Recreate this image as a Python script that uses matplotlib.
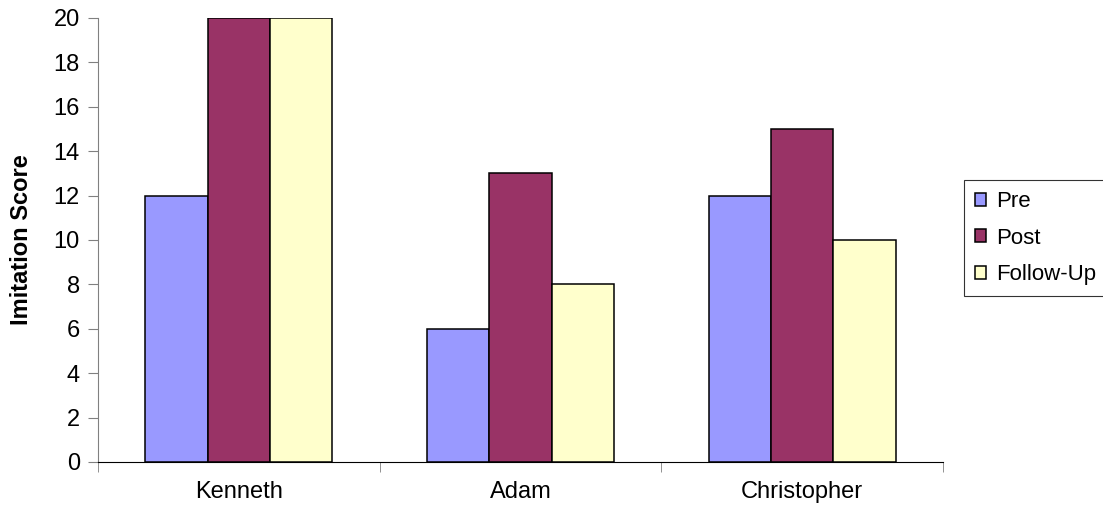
import matplotlib.pyplot as plt
import numpy as np

plt.rcParams['font.family'] = ['Liberation Sans', 'DejaVu Sans']

# Imitation scores per child across the three phases
children = ['Kenneth', 'Adam', 'Christopher']
pre = [12, 6, 12]
post = [20, 13, 15]
follow_up = [20, 8, 10]

series = [('Pre', pre, '#9999FF'),
          ('Post', post, '#993366'),
          ('Follow-Up', follow_up, '#FFFFCC')]

fig = plt.figure(figsize=(11.03, 5.14), dpi=100)
ax = fig.add_axes([98 / 1103, 52 / 514, 845 / 1103, 444 / 514])

x = np.arange(len(children))
w = 0.2215
for i, (name, vals, col) in enumerate(series):
    ax.bar(x + (i - 1) * w, vals, w, color=col, edgecolor='black',
           linewidth=1.1, label=name, zorder=3)

ax.set_xlim(-0.5, len(children) - 0.5)
ax.set_ylim(0, 20)
ax.set_yticks(range(0, 21, 2))
ax.set_xticks(x)
ax.set_xticklabels(children)
ax.set_xticks(np.arange(-0.5, len(children), 1), minor=True)

ax.spines['top'].set_visible(False)
ax.spines['right'].set_visible(False)
ax.spines['left'].set_color('#808080')
ax.spines['bottom'].set_color('black')
ax.tick_params(axis='y', which='major', length=7, color='#808080',
               labelsize=17, pad=6)
ax.tick_params(axis='x', which='major', length=0, labelsize=17, pad=14)
ax.tick_params(axis='x', which='minor', length=7, color='#808080')

ax.set_ylabel('Imitation Score', fontsize=17, fontweight='bold')
ax.yaxis.set_label_coords(-0.077, 0.5)

leg = ax.legend(loc='upper left', bbox_to_anchor=(964 / 1103, 1 - 180 / 514),
                bbox_transform=fig.transFigure, fontsize=16, frameon=True,
                fancybox=False, handlelength=0.5, handleheight=0.5,
                handletextpad=0.45, borderpad=0.5, labelspacing=0.7,
                borderaxespad=0)
leg.get_frame().set_edgecolor('black')
leg.get_frame().set_linewidth(0.8)

fig.savefig('out.png', dpi=100)
